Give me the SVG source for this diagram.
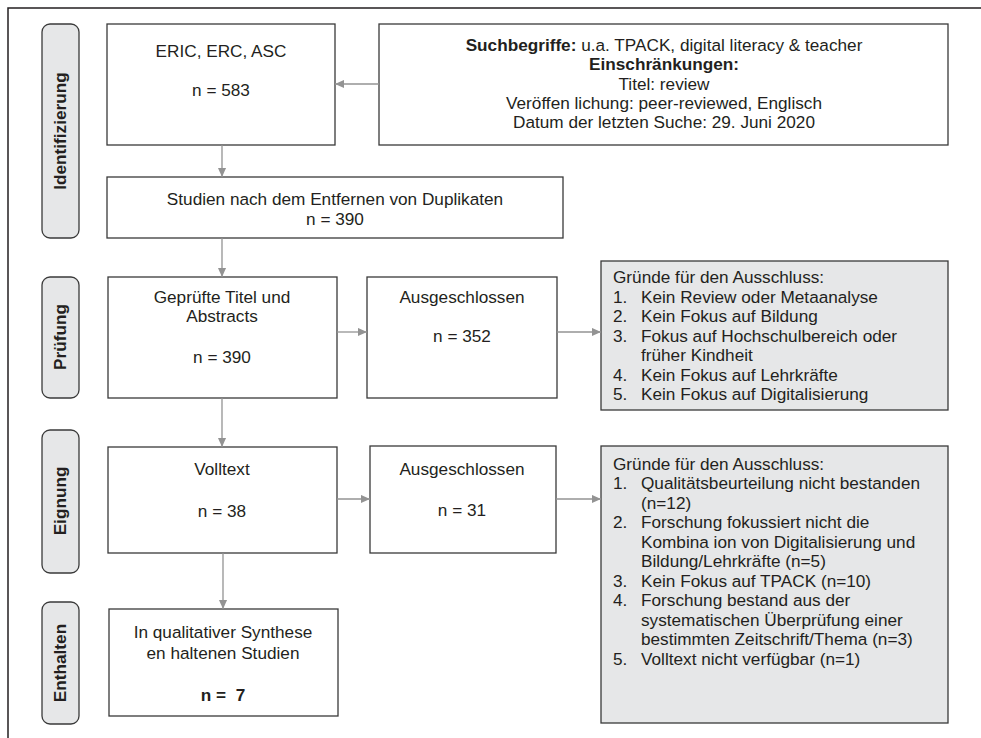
<svg xmlns="http://www.w3.org/2000/svg" width="981" height="738" viewBox="0 0 981 738">
<defs>
<style>
text{font-family:"Liberation Sans",Arial,sans-serif;font-size:17.2px;fill:#231f20}
.c{text-anchor:middle}
.b{font-weight:bold}
.box{fill:#fff;stroke:#3a3a3a;stroke-width:1.3}
.grey{fill:#e6e7e8;stroke:#3a3a3a;stroke-width:1.3}
.pill{fill:#e6e7e8;stroke:#3a3a3a;stroke-width:1.3}
.con{stroke:#939393;stroke-width:1.3;fill:none;marker-end:url(#ah)}
</style>
<marker id="ah" viewBox="0 0 10 10" refX="10" refY="5" markerWidth="9" markerHeight="9" markerUnits="userSpaceOnUse" orient="auto">
<path d="M0,0.5 L10,5 L0,9.5 z" fill="#939393"/>
</marker>
</defs>
<rect width="981" height="738" fill="#fff"/>
<path d="M8,738 V8 H981" fill="none" stroke="#231f20" stroke-width="1.5"/>

<g id="stage-identifizierung">
<rect class="pill" x="42" y="24" width="37" height="214" rx="8"/>
<text class="c b" transform="translate(66,131) rotate(-90)">Identifizierung</text>
</g>
<g id="stage-pruefung">
<rect class="pill" x="42" y="277" width="37" height="121" rx="8"/>
<text class="c b" transform="translate(66,337) rotate(-90)">Prüfung</text>
</g>
<g id="stage-eignung">
<rect class="pill" x="42" y="430" width="37" height="143" rx="8"/>
<text class="c b" transform="translate(66,501) rotate(-90)">Eignung</text>
</g>
<g id="stage-enthalten">
<rect class="pill" x="42" y="602" width="37" height="122" rx="8"/>
<text class="c b" transform="translate(66,663) rotate(-90)">Enthalten</text>
</g>

<g id="node-eric">
<rect class="box" x="107" y="24" width="228" height="121"/>
<text class="c" x="221" y="57">ERIC, ERC, ASC</text>
<text class="c" x="221" y="96">n = 583</text>
</g>
<g id="node-search">
<rect class="box" x="379" y="24" width="569" height="121"/>
<text class="c" x="664" y="51"><tspan class="b">Suchbegriffe:</tspan> u.a. TPACK, digital literacy &amp; teacher</text>
<text class="c b" x="664" y="70">Einschränkungen:</text>
<text class="c" x="664" y="90">Titel: review</text>
<text class="c" x="664" y="109">Veröffen lichung: peer-reviewed, Englisch</text>
<text class="c" x="664" y="128">Datum der letzten Suche: 29. Juni 2020</text>
</g>
<g id="node-studien">
<rect class="box" x="107" y="177" width="456" height="61"/>
<text class="c" x="335" y="205">Studien nach dem Entfernen von Duplikaten</text>
<text class="c" x="335" y="225">n = 390</text>
</g>
<g id="node-geprueft">
<rect class="box" x="108" y="277" width="229" height="121"/>
<text class="c" x="222" y="303">Geprüfte Titel und</text>
<text class="c" x="222" y="322">Abstracts</text>
<text class="c" x="222" y="363">n = 390</text>
</g>
<g id="node-ausg1">
<rect class="box" x="367" y="277" width="190" height="121"/>
<text class="c" x="462" y="303">Ausgeschlossen</text>
<text class="c" x="462" y="342">n = 352</text>
</g>
<g id="node-gruende1">
<rect class="grey" x="601" y="261" width="347" height="149"/>
<text x="613" y="283">Gründe für den Ausschluss:</text>
<text x="613" y="303">1.</text><text x="641" y="303">Kein Review oder Metaanalyse</text>
<text x="613" y="322">2.</text><text x="641" y="322">Kein Fokus auf Bildung</text>
<text x="613" y="342">3.</text><text x="641" y="342">Fokus auf Hochschulbereich oder</text>
<text x="641" y="361">früher Kindheit</text>
<text x="613" y="381">4.</text><text x="641" y="381">Kein Fokus auf Lehrkräfte</text>
<text x="613" y="400">5.</text><text x="641" y="400">Kein Fokus auf Digitalisierung</text>
</g>
<g id="node-volltext">
<rect class="box" x="108" y="447" width="229" height="106"/>
<text class="c" x="222" y="475">Volltext</text>
<text class="c" x="222" y="517">n = 38</text>
</g>
<g id="node-ausg2">
<rect class="box" x="370" y="446" width="186" height="107"/>
<text class="c" x="462" y="475">Ausgeschlossen</text>
<text class="c" x="462" y="516">n = 31</text>
</g>
<g id="node-gruende2">
<rect class="grey" x="601" y="446" width="347" height="277"/>
<text x="613" y="470">Gründe für den Ausschluss:</text>
<text x="613" y="489">1.</text><text x="641" y="489">Qualitätsbeurteilung nicht bestanden</text>
<text x="641" y="509">(n=12)</text>
<text x="613" y="528">2.</text><text x="641" y="528">Forschung fokussiert nicht die</text>
<text x="641" y="548">Kombina ion von Digitalisierung und</text>
<text x="641" y="567">Bildung/Lehrkräfte (n=5)</text>
<text x="613" y="587">3.</text><text x="641" y="587">Kein Fokus auf TPACK (n=10)</text>
<text x="613" y="606">4.</text><text x="641" y="606">Forschung bestand aus der</text>
<text x="641" y="626">systematischen Überprüfung einer</text>
<text x="641" y="645">bestimmten Zeitschrift/Thema (n=3)</text>
<text x="613" y="665">5.</text><text x="641" y="665">Volltext nicht verfügbar (n=1)</text>
</g>
<g id="node-enthalten">
<rect class="box" x="109" y="609" width="229" height="107"/>
<text class="c" x="223" y="638">In qualitativer Synthese</text>
<text class="c" x="223" y="659">en haltenen Studien</text>
<text class="c b" x="223" y="701" xml:space="preserve">n =  7</text>
</g>

<g id="connectors">
<line class="con" x1="379" y1="84" x2="335" y2="84"/>
<line class="con" x1="222" y1="145" x2="222" y2="177"/>
<line class="con" x1="222" y1="238" x2="222" y2="277"/>
<line class="con" x1="337" y1="332" x2="367" y2="332"/>
<line class="con" x1="557" y1="332" x2="601" y2="332"/>
<line class="con" x1="222" y1="398" x2="222" y2="447"/>
<line class="con" x1="337" y1="499" x2="370" y2="499"/>
<line class="con" x1="556" y1="499" x2="601" y2="499"/>
<line class="con" x1="223" y1="553" x2="223" y2="609"/>
</g>
</svg>
